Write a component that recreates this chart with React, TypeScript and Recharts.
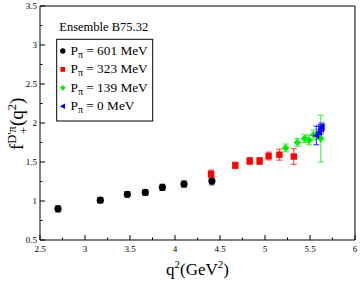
import { ScatterChart, Scatter, XAxis, YAxis, ErrorBar, Legend } from "recharts"

// q^2 (GeV^2), f+(q^2) and error, one set per pion momentum
const q2P601 = [2.7, 3.17, 3.47, 3.67, 3.86, 4.1, 4.41]
const fP601 = [0.9, 1.01, 1.086, 1.11, 1.175, 1.218, 1.256]
const errP601 = [0.04, 0.035, 0.035, 0.035, 0.04, 0.04, 0.05]

const q2P323 = [4.4, 4.67, 4.83, 4.94, 5.04, 5.16, 5.32]
const fP323 = [1.346, 1.457, 1.513, 1.513, 1.577, 1.594, 1.57]
const errP323 = [0.05, 0.04, 0.045, 0.045, 0.05, 0.07, 0.1]

const q2P139 = [5.23, 5.36, 5.44, 5.49, 5.54, 5.62]
const fP139 = [1.68, 1.75, 1.8, 1.78, 1.85, 1.8]
const errP139 = [0.05, 0.05, 0.05, 0.06, 0.06, 0.3]

const q2P0 = [5.57, 5.6, 5.62, 5.63]
const fP0 = [1.84, 1.88, 1.92, 1.95]
const errP0 = [0.12, 0.08, 0.06, 0.05]

const xTicks = [2.5, 2.75, 3, 3.25, 3.5, 3.75, 4, 4.25, 4.5, 4.75, 5, 5.25, 5.5, 5.75, 6]
const yTicks = [0.5, 0.75, 1, 1.25, 1.5, 1.75, 2, 2.25, 2.5, 2.75, 3, 3.25, 3.5]

const toRows = (q2: number[], f: number[], err: number[]) =>
  q2.map((q, i) => ({ q2: q, f: f[i], err: err[i] }))

const series = [
  { name: "601", rows: toRows(q2P601, fP601, errP601), color: "#000000", bar: "#444444", shape: "circle" },
  { name: "323", rows: toRows(q2P323, fP323, errP323), color: "#ff0000", bar: "#ff3333", shape: "square" },
  { name: "139", rows: toRows(q2P139, fP139, errP139), color: "#00ee00", bar: "#33ee33", shape: "diamond" },
  { name: "0", rows: toRows(q2P0, fP0, errP0), color: "#0000ff", bar: "#2222ff", shape: "triangle" },
]

const FONT = "'Liberation Serif', 'DejaVu Serif', serif"

function Marker({ cx, cy, shape, color, s = 1 }: any) {
  if (shape === "circle") return <circle cx={cx} cy={cy} r={3.6 * s} fill={color} />
  if (shape === "square")
    return <rect x={cx - 3.2 * s} y={cy - 3.2 * s} width={6.4 * s} height={6.4 * s} fill={color} />
  if (shape === "diamond") {
    const d = 3.8 * s
    return <polygon points={`${cx},${cy - d} ${cx + d},${cy} ${cx},${cy + d} ${cx - d},${cy}`} fill={color} />
  }
  return (
    <polygon
      points={`${cx - 4 * s},${cy} ${cx + 3 * s},${cy - 3.6 * s} ${cx + 3 * s},${cy + 3.6 * s}`}
      fill={color}
    />
  )
}

const isMajor = (v: number) => Math.abs(v * 2 - Math.round(v * 2)) < 1e-6

// inward ticks, labels only on bottom / left
function AxisTick({ x, y, payload, side }: any) {
  const major = isMajor(payload.value)
  const len = major ? 5 : 2.5
  const label = major ? String(payload.value) : ""
  if (side === "bottom")
    return (
      <g>
        <line x1={x} x2={x} y1={y} y2={y - len} stroke="#000" />
        <text x={x} y={y + 12} textAnchor="middle" fontSize={9} fontFamily={FONT} fill="#000">
          {label}
        </text>
      </g>
    )
  if (side === "top") return <line x1={x} x2={x} y1={y} y2={y + len} stroke="#000" />
  if (side === "left")
    return (
      <g>
        <line x1={x} x2={x + len} y1={y} y2={y} stroke="#000" />
        <text x={x - 3} y={y + 3} textAnchor="end" fontSize={9} fontFamily={FONT} fill="#000">
          {label}
        </text>
      </g>
    )
  return <line x1={x} x2={x - len} y1={y} y2={y} stroke="#000" />
}

function YLabel({ viewBox }: any) {
  const { x, y } = viewBox
  return (
    <text transform={`translate(${x + 23},${y + 144}) rotate(-90)`} fontFamily={FONT} fontSize={19} fill="#000">
      <tspan>f</tspan>
      <tspan dy={-7} fontSize={12.5}>D'π</tspan>
      <tspan dx={-8} dy={12} fontSize={12.5}>+</tspan>
      <tspan dx={1} dy={-5}>(q</tspan>
      <tspan dy={-7} fontSize={12.5}>2</tspan>
      <tspan dy={7}>)</tspan>
    </text>
  )
}

function XLabel({ viewBox }: any) {
  const { x, y, width } = viewBox
  return (
    <text x={x + width / 2} y={y + 35} textAnchor="middle" fontFamily={FONT} fontSize={17} fill="#000">
      <tspan>q</tspan>
      <tspan dy={-7} fontSize={11}>2</tspan>
      <tspan dy={7}>(GeV</tspan>
      <tspan dy={-7} fontSize={11}>2</tspan>
      <tspan dy={7}>)</tspan>
    </text>
  )
}

function LegendBox() {
  return (
    <svg width={110} height={112} style={{ display: "block" }}>
      <text x={9.3} y={16.7} fontFamily={FONT} fontSize={12.5} fill="#000">
        Ensemble B75.32
      </text>
      <rect x={6.7} y={25.3} width={96} height={81.7} fill="#fff" stroke="#000" strokeWidth={1} />
      {series.map((s, i) => {
        const base = 41 + i * 18.4
        return (
          <g key={s.name}>
            <Marker cx={12.8} cy={base - 4} shape={s.shape} color={s.color} s={0.75} />
            <text x={20.5} y={base} fontFamily={FONT} fontSize={13.3} fill="#000">
              <tspan>P</tspan>
              <tspan dy={3} fontSize={10}>π</tspan>
              <tspan dy={-3}>{` = ${s.name} MeV`}</tspan>
            </text>
          </g>
        )
      })}
    </svg>
  )
}

export default function App() {
  return (
    <div style={{ position: "absolute", left: 0, top: 0, background: "#fff" }}>
      <ScatterChart width={363} height={282} margin={{ top: 0, right: 0, bottom: 0, left: 0 }}>
        <XAxis
          dataKey="q2"
          type="number"
          domain={[2.5, 6]}
          ticks={xTicks}
          interval={0}
          height={42}
          tickSize={0}
          tickMargin={0}
          tickLine={false}
          axisLine={{ stroke: "#000" }}
          tick={(p: any) => <AxisTick {...p} side="bottom" />}
          label={(p: any) => <XLabel {...p} />}
        />
        <XAxis
          xAxisId="top"
          orientation="top"
          type="number"
          domain={[2.5, 6]}
          ticks={xTicks}
          interval={0}
          height={6}
          tickSize={0}
          tickMargin={0}
          tickLine={false}
          axisLine={{ stroke: "#000" }}
          tick={(p: any) => <AxisTick {...p} side="top" />}
        />
        <YAxis
          dataKey="f"
          type="number"
          domain={[0.5, 3.5]}
          ticks={yTicks}
          interval={0}
          width={40}
          tickSize={0}
          tickMargin={0}
          tickLine={false}
          axisLine={{ stroke: "#000" }}
          tick={(p: any) => <AxisTick {...p} side="left" />}
          label={(p: any) => <YLabel {...p} />}
        />
        <YAxis
          yAxisId="right"
          orientation="right"
          type="number"
          domain={[0.5, 3.5]}
          ticks={yTicks}
          interval={0}
          width={8}
          tickSize={0}
          tickMargin={0}
          tickLine={false}
          axisLine={{ stroke: "#000" }}
          tick={(p: any) => <AxisTick {...p} side="right" />}
        />
        <Legend
          layout="vertical"
          align="center"
          verticalAlign="middle"
          wrapperStyle={{ left: 50, top: 14, width: 110, height: 112 }}
          content={() => <LegendBox />}
        />
        {series.map((s) => (
          <Scatter
            key={s.name}
            name={s.name}
            data={s.rows}
            isAnimationActive={false}
            shape={(p: any) => <Marker cx={p.cx} cy={p.cy} shape={s.shape} color={s.color} />}
          >
            <ErrorBar dataKey="err" direction="y" width={3} stroke={s.bar} strokeWidth={1} />
          </Scatter>
        ))}
      </ScatterChart>
    </div>
  )
}
